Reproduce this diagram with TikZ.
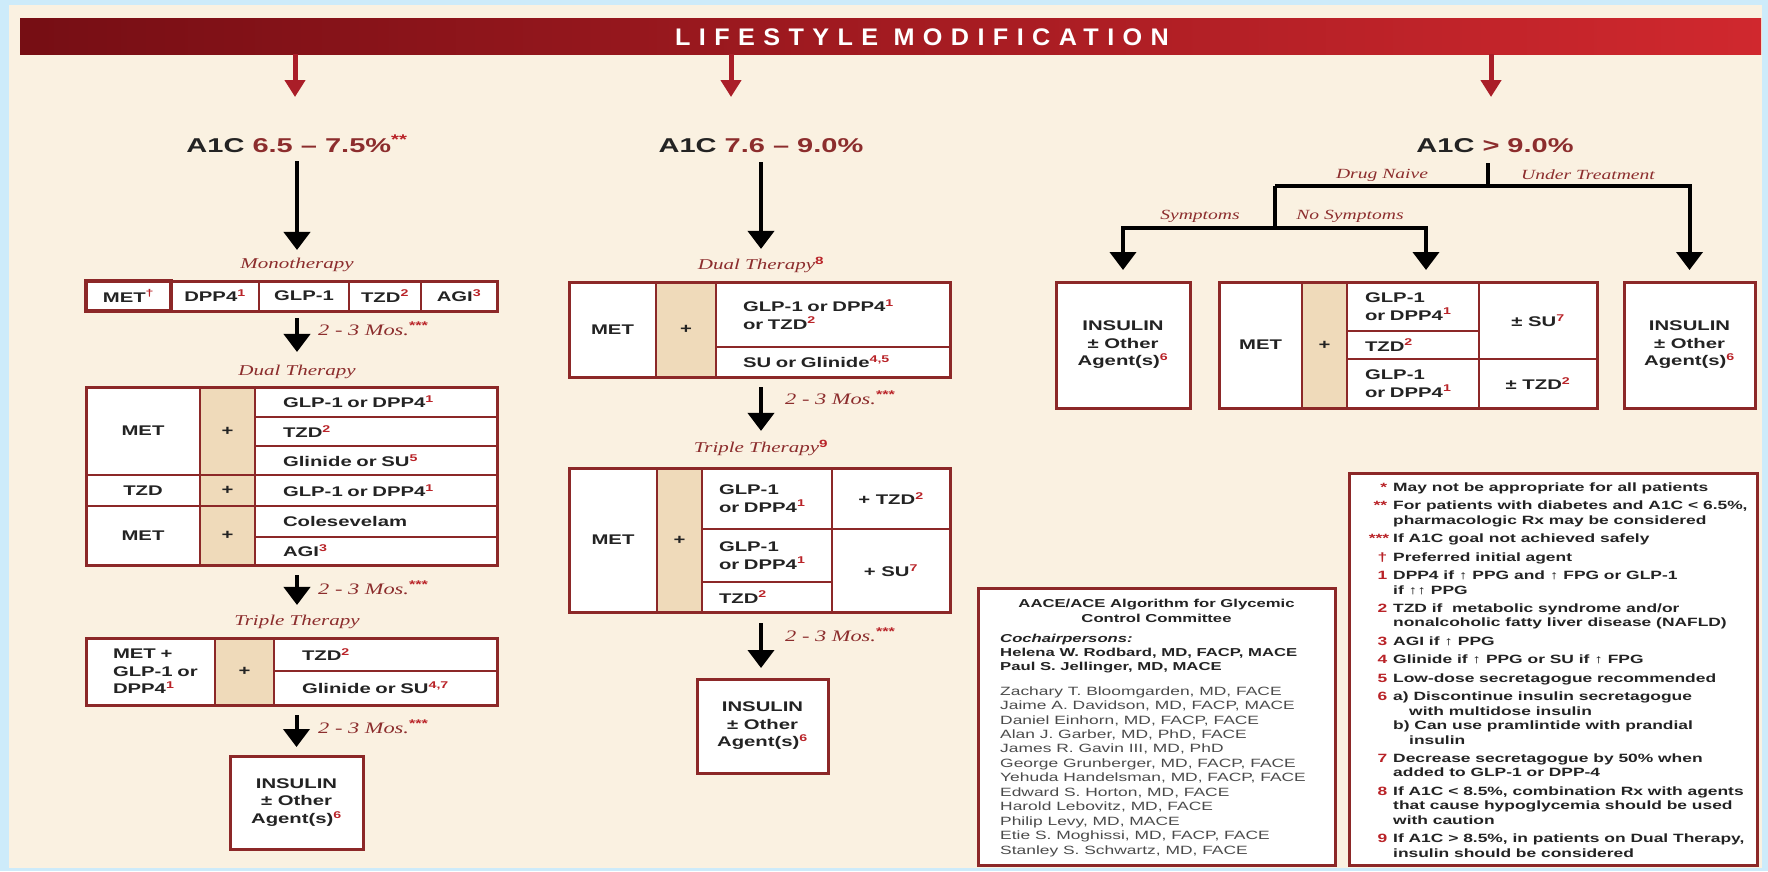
\documentclass[tikz,border=0pt]{standalone}
\usepackage{fontspec}
\setmainfont[FakeStretch=1.45]{Liberation Sans}
\newfontfamily\labelfont[FakeStretch=1.4]{Liberation Serif}
\newfontfamily\bannerfont[FakeStretch=1.05,LetterSpace=35]{Liberation Sans}
\usetikzlibrary{arrows.meta,positioning}

\definecolor{bgblue}{RGB}{205,235,250}
\definecolor{cream}{RGB}{250,241,225}
\definecolor{boxred}{RGB}{140,40,40}
\definecolor{labred}{RGB}{140,45,45}
\definecolor{fnred}{RGB}{185,35,40}
\definecolor{arrred}{RGB}{170,30,40}
\definecolor{bandark}{RGB}{118,14,20}
\definecolor{banlight}{RGB}{208,40,46}
\definecolor{plustan}{RGB}{239,218,186}
\definecolor{txtdark}{RGB}{35,35,35}
\definecolor{namegrey}{RGB}{75,75,75}

\newcommand{\fn}[1]{\textsuperscript{\normalfont\bfseries\textcolor{fnred}{#1}}}
\newcommand{\cellfont}{\fontsize{14}{17.5}\selectfont\bfseries}

\tikzset{
  cell/.style={draw=boxred, line width=2.2pt, fill=white, inner sep=0pt, outer sep=0pt,
    align=center, font=\cellfont, text=txtdark},
  lcell/.style 2 args={cell, align=left, text width=#1, inner xsep=#2},
  pluscell/.style={cell, fill=plustan},
  frame/.style={draw=boxred, line width=3pt},
  hd/.style={font=\fontsize{20}{24}\selectfont\bfseries, text=txtdark, inner sep=0pt},
  lbl/.style={font=\labelfont\fontsize{15}{18}\selectfont\itshape, text=labred, inner sep=0pt},
  mos/.style={lbl, font=\labelfont\fontsize{16}{18}\selectfont\itshape, anchor=west},
  bigarrow/.style={draw=black, line width=4pt, -{Triangle[width=26pt,length=18pt]}},
  branch/.style={draw=black, line width=4pt},
  redarrow/.style={draw=arrred, line width=5pt, -{Triangle[width=20pt,length=17pt]}},
  banner/.style={minimum width=1741pt, minimum height=36pt, inner sep=0pt,
    left color=bandark, right color=banlight},
}

\begin{document}
\begin{tikzpicture}[x=1pt,y=-1pt]
    % background
    \useasboundingbox (0,0) rectangle (1768,871);
    \fill[bgblue] (0,0) rectangle (1768,871);
    \fill[cream] (9,5) rectangle (1762,868);

    % banner
    \node[banner] (banner) at (890.5,36) {};
    \node[font=\bannerfont\fontsize{24}{26}\selectfont\bfseries, text=white] (title) at (922,37) {LIFESTYLE MODIFICATION};
    \coordinate (rA) at (295,97);
    \coordinate (rB) at (731,97);
    \coordinate (rC) at (1491,97);
    \draw[redarrow] (banner.south -| rA) -- (rA);
    \draw[redarrow] (banner.south -| rB) -- (rB);
    \draw[redarrow] (banner.south -| rC) -- (rC);

    % column 1
    \node[hd, anchor=base] (headA) at (297,152) {A1C \textcolor{labred}{6.5 – 7.5\%}\fn{**}};
    \node[lbl] (monoLbl) at (297,265) {Monotherapy};
    \node[cell, line width=3.5pt, minimum width=85pt, minimum height=30pt] (mMET) at (128.5,296) {MET\fn{†}};
    \node[cell, minimum width=88pt, minimum height=30pt] (mDPP) at (215,296) {DPP4\fn{1}};
    \node[cell, minimum width=90pt, minimum height=30pt] (mGLP) at (304,296) {GLP-1};
    \node[cell, minimum width=72pt, minimum height=30pt] (mTZD) at (385,296) {TZD\fn{2}};
    \node[cell, minimum width=76pt, minimum height=30pt] (mAGI) at (459,296) {AGI\fn{3}};
    \draw[frame] (mMET.north west) rectangle (mAGI.south east);
    \draw[draw=boxred, line width=3.5pt] (mMET.north west) rectangle (mMET.south east);

    \node[lbl] (dualLbl) at (297,372) {Dual Therapy};
    \node[mos] (mosA) at (318,329) {2 - 3 Mos.\fn{***}};
    \node[cell, minimum width=114pt, minimum height=88pt] (dMET) at (143,431) {MET};
    \node[pluscell, minimum width=55pt, minimum height=88pt] (dP1) at (227.5,431) {+};
    \node[lcell={186pt}{28pt}, minimum height=30pt] (dGLP) at (376,402) {GLP-1 or DPP4\fn{1}};
    \node[lcell={186pt}{28pt}, minimum height=29pt] (dTZD) at (376,431.5) {TZD\fn{2}};
    \node[lcell={186pt}{28pt}, minimum height=29pt] (dGlin) at (376,460.5) {Glinide or SU\fn{5}};
    \node[cell, minimum width=114pt, minimum height=31pt] (dTZDb) at (143,490.5) {TZD};
    \node[pluscell, minimum width=55pt, minimum height=31pt] (dP2) at (227.5,490.5) {+};
    \node[lcell={186pt}{28pt}, minimum height=31pt] (dGLPb) at (376,490.5) {GLP-1 or DPP4\fn{1}};
    \node[cell, minimum width=114pt, minimum height=59pt] (dMETb) at (143,535.5) {MET};
    \node[pluscell, minimum width=55pt, minimum height=59pt] (dP3) at (227.5,535.5) {+};
    \node[lcell={186pt}{28pt}, minimum height=31pt] (dCol) at (376,521.5) {Colesevelam};
    \node[lcell={186pt}{28pt}, minimum height=28pt] (dAGI) at (376,551) {AGI\fn{3}};
    \draw[frame] (dMET.north west) rectangle (dAGI.south east);

    \node[lbl] (tripLbl) at (297,622) {Triple Therapy};
    \node[mos] (mosB) at (318,588) {2 - 3 Mos.\fn{***}};
    \node[lcell={75pt}{27pt}, minimum height=67pt] (tL) at (150.5,671.5) {MET +\\\mbox{GLP-1 or}\\DPP4\fn{1}};
    \node[pluscell, minimum width=59pt, minimum height=67pt] (tP) at (244.5,671.5) {+};
    \node[lcell={167pt}{28pt}, minimum height=33pt] (tTZD) at (385.5,654.5) {TZD\fn{2}};
    \node[lcell={167pt}{28pt}, minimum height=34pt] (tGlin) at (385.5,688) {Glinide or SU\fn{4,7}};
    \draw[frame] (tL.north west) rectangle (tGlin.south east);

    \node[mos] (mosC) at (318,727) {2 - 3 Mos.\fn{***}};
    \node[cell, line width=3pt, minimum width=133pt, minimum height=93pt] (insA) at (296.5,802.5) {INSULIN\\± Other\\Agent(s)\fn{6}};

    \draw[bigarrow, shorten <=9pt, shorten >=8pt] (headA.south) -- (monoLbl.north);
    \draw[bigarrow, shorten <=7pt, shorten >=13pt] (dualLbl |- mGLP.south) -- (dualLbl.north);
    \draw[bigarrow, shorten <=10pt, shorten >=10pt] (tripLbl |- dAGI.south) -- (tripLbl.north);
    \draw[bigarrow, shorten <=10pt, shorten >=9pt] (insA |- tGlin.south) -- (insA.north);

    % column 2
    \node[hd, anchor=base] (headB) at (761,152) {A1C \textcolor{labred}{7.6 – 9.0\%}};
    \node[lbl] (dual2Lbl) at (761,265) {Dual Therapy\fn{8}};
    \node[cell, minimum width=87pt, minimum height=95pt] (eMET) at (612.5,329.5) {MET};
    \node[pluscell, minimum width=60pt, minimum height=95pt] (eP) at (686,329.5) {+};
    \node[lcell={180pt}{27pt}, minimum height=65pt] (eGLP) at (833,314.5) {GLP-1 or DPP4\fn{1}\\or TZD\fn{2}};
    \node[lcell={180pt}{27pt}, minimum height=30pt] (eSU) at (833,362) {SU or Glinide\fn{4,5}};
    \draw[frame] (eMET.north west) rectangle (eSU.south east);

    \node[lbl] (trip2Lbl) at (761,448) {Triple Therapy\fn{9}};
    \node[mos] (mosD) at (785,398) {2 - 3 Mos.\fn{***}};
    \node[cell, minimum width=88pt, minimum height=144pt] (fMET) at (613,540) {MET};
    \node[pluscell, minimum width=45pt, minimum height=144pt] (fP) at (679.5,540) {+};
    \node[lcell={96pt}{17pt}, minimum height=61pt] (fGLPa) at (767,498.5) {GLP-1\\or DPP4\fn{1}};
    \node[lcell={96pt}{17pt}, minimum height=53pt] (fGLPb) at (767,555.5) {GLP-1\\or DPP4\fn{1}};
    \node[lcell={96pt}{17pt}, minimum height=30pt] (fTZD) at (767,597) {TZD\fn{2}};
    \node[cell, minimum width=118pt, minimum height=61pt] (fPTZD) at (891,498.5) {+ TZD\fn{2}};
    \node[cell, minimum width=118pt, minimum height=83pt] (fPSU) at (891,570.5) {+ SU\fn{7}};
    \draw[frame] (fMET.north west) rectangle (fPSU.south east);

    \node[mos] (mosE) at (785,635) {2 - 3 Mos.\fn{***}};
    \node[cell, line width=3pt, minimum width=131pt, minimum height=94pt] (insB) at (762.5,726) {INSULIN\\± Other\\Agent(s)\fn{6}};

    \draw[bigarrow, shorten <=10pt, shorten >=8pt] (headB.south) -- (dual2Lbl.north);
    \draw[bigarrow, shorten <=10pt, shorten >=9pt] (trip2Lbl |- eSU.south) -- (trip2Lbl.north);
    \draw[bigarrow, shorten <=11pt, shorten >=11pt] (headB |- fPSU.south) -- (headB |- insB.north);

    % column 3
    \node[hd, anchor=base] (headC) at (1495,152) {A1C \textcolor{labred}{> 9.0\%}};
    \node[lbl, font=\labelfont\fontsize{14}{16}\selectfont\itshape] (naive) at (1382,175) {Drug Naive};
    \node[lbl, font=\labelfont\fontsize{14}{16}\selectfont\itshape] (under) at (1588,175) {Under Treatment};
    \node[lbl, font=\labelfont\fontsize{14}{16}\selectfont\itshape] (sym) at (1200,216) {Symptoms};
    \node[lbl, font=\labelfont\fontsize{14}{16}\selectfont\itshape] (nosym) at (1350,216) {No Symptoms};

    \node[cell, line width=3pt, minimum width=134pt, minimum height=126pt] (insL) at (1123,345) {INSULIN\\± Other\\Agent(s)\fn{6}};
    \node[cell, minimum width=83pt, minimum height=126pt] (gMET) at (1260.5,345) {MET};
    \node[pluscell, minimum width=45pt, minimum height=126pt] (gP) at (1324.5,345) {+};
    \node[lcell={96pt}{18pt}, minimum height=49pt] (gGLPa) at (1413,306.5) {GLP-1\\or DPP4\fn{1}};
    \node[lcell={96pt}{18pt}, minimum height=28pt] (gTZD) at (1413,345) {TZD\fn{2}};
    \node[lcell={96pt}{18pt}, minimum height=49pt] (gGLPb) at (1413,383.5) {GLP-1\\or DPP4\fn{1}};
    \node[cell, minimum width=118pt, minimum height=77pt] (gSU) at (1538,320.5) {± SU\fn{7}};
    \node[cell, minimum width=118pt, minimum height=49pt] (gTZDb) at (1538,383.5) {± TZD\fn{2}};
    \draw[frame] (gMET.north west) rectangle (gTZDb.south east);
    \node[cell, line width=3pt, minimum width=131pt, minimum height=126pt] (insR) at (1689.5,345) {INSULIN\\± Other\\Agent(s)\fn{6}};

    \coordinate (c3top) at (1488,163);
    \coordinate (c3j) at (1488,186);
    \coordinate (c3k) at (1275,186);
    \coordinate (c3m) at (1275,228);
    \draw[branch] (c3top) -- (c3j);
    \draw[branch] (c3k) -- (c3m);
    \draw[bigarrow, shorten >=12pt] (c3k) -| (insR.north);
    \draw[bigarrow, shorten >=12pt] (c3m) -| (insL.north);
    \draw[bigarrow, shorten >=12pt] (c3m) -| ([xshift=13pt]gGLPa.north);

    % committee box
    \node[frame, fill=white, minimum width=357pt, minimum height=277pt, inner sep=0pt] (aace) at (1156.5,726.5) {};
    \node[inner sep=0pt, align=center, font=\fontsize{11.5}{15}\selectfont\bfseries, text=txtdark] (aTitle) at (1156.5,610.5) {AACE/ACE Algorithm for Glycemic\\Control Committee};
    \node[inner sep=0pt, anchor=west, align=left, font=\fontsize{11.5}{14}\selectfont\bfseries, text=txtdark] (aChair) at (1000,654) {\textit{Cochairpersons:}\\Helena W. Rodbard, MD, FACP, MACE\\Paul S. Jellinger, MD, MACE};
    \node[inner sep=0pt, anchor=west, align=left, font=\fontsize{12}{14.45}\selectfont, text=namegrey] (aNames) at (1000,771.5) {Zachary T. Bloomgarden, MD, FACE\\
      Jaime A. Davidson, MD, FACP, MACE\\
      Daniel Einhorn, MD, FACP, FACE\\
      Alan J. Garber, MD, PhD, FACE\\
      James R. Gavin III, MD, PhD\\
      George Grunberger, MD, FACP, FACE\\
      Yehuda Handelsman, MD, FACP, FACE\\
      Edward S. Horton, MD, FACE\\
      Harold Lebovitz, MD, FACE\\
      Philip Levy, MD, MACE\\
      Etie S. Moghissi, MD, FACP, FACE\\
      Stanley S. Schwartz, MD, FACE};

    % footnotes
    \node[frame, fill=white, minimum width=408pt, minimum height=392pt, inner sep=0pt] (notes) at (1553,669) {};
    \node[inner sep=0pt, anchor=west, align=left, font=\fontsize{12}{14.5}\selectfont\bfseries, text=txtdark] (noteText) at (1393,670) {%
      \llap{\textcolor{fnred}{*}\hspace{6pt}}May not be appropriate for all patients\\[3.9pt]
      \llap{\textcolor{fnred}{**}\hspace{6pt}}For patients with diabetes and A1C < 6.5\%,\\
      pharmacologic Rx may be considered\\[3.9pt]
      \llap{\textcolor{fnred}{***}\hspace{4pt}}If A1C goal not achieved safely\\[3.9pt]
      \llap{\textcolor{fnred}{†}\hspace{6pt}}Preferred initial agent\\[3.9pt]
      \llap{\textcolor{fnred}{1}\hspace{6pt}}DPP4 if ↑ PPG and ↑ FPG or GLP-1\\
      if ↑↑ PPG\\[3.9pt]
      \llap{\textcolor{fnred}{2}\hspace{6pt}}TZD if\ \ metabolic syndrome and/or\\
      nonalcoholic fatty liver disease (NAFLD)\\[3.9pt]
      \llap{\textcolor{fnred}{3}\hspace{6pt}}AGI if ↑ PPG\\[3.9pt]
      \llap{\textcolor{fnred}{4}\hspace{6pt}}Glinide if ↑ PPG or SU if ↑ FPG\\[3.9pt]
      \llap{\textcolor{fnred}{5}\hspace{6pt}}Low-dose secretagogue recommended\\[3.9pt]
      \llap{\textcolor{fnred}{6}\hspace{6pt}}a) Discontinue insulin secretagogue\\
      \hspace*{16pt}with multidose insulin\\
      b) Can use pramlintide with prandial\\
      \hspace*{16pt}insulin\\[3.9pt]
      \llap{\textcolor{fnred}{7}\hspace{6pt}}Decrease secretagogue by 50\% when\\
      added to GLP-1 or DPP-4\\[3.9pt]
      \llap{\textcolor{fnred}{8}\hspace{6pt}}If A1C < 8.5\%, combination Rx with agents\\
      that cause hypoglycemia should be used\\
      with caution\\[3.9pt]
      \llap{\textcolor{fnred}{9}\hspace{6pt}}If A1C > 8.5\%, in patients on Dual Therapy,\\
      insulin should be considered};
\end{tikzpicture}
\end{document}
